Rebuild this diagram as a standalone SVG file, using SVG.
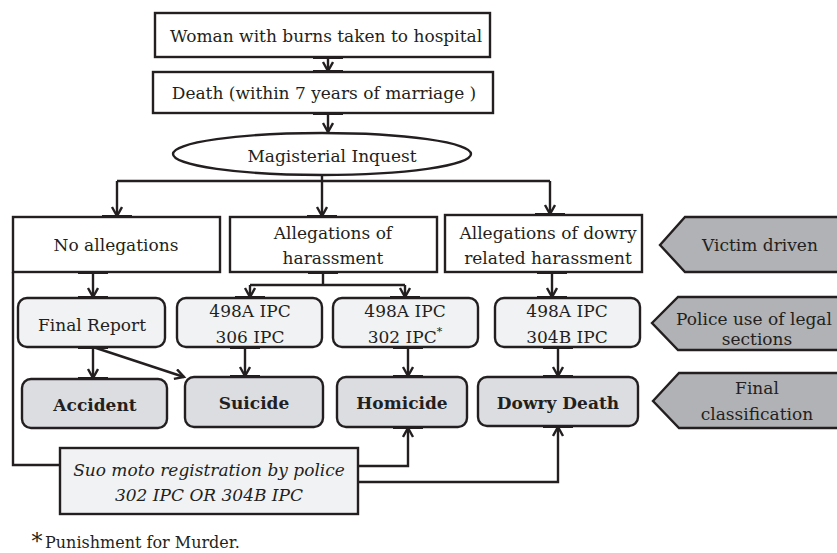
<svg xmlns="http://www.w3.org/2000/svg" width="837" height="553" viewBox="0 0 837 553">
<defs>
<marker id="arr" markerUnits="userSpaceOnUse" markerWidth="14" markerHeight="14" refX="10" refY="6" orient="auto">
<path d="M1,1 L10,6 L1,11" fill="none" stroke="#231f20" stroke-width="2.4"/>
</marker>
<style>
text{font-family:'DejaVu Serif','Liberation Serif',serif;fill:#231f20;text-anchor:middle}
.t{font-size:17px}
.b{font-size:17px;font-weight:bold}
.i{font-size:17px;font-style:italic}
.box{fill:#fff;stroke:#231f20;stroke-width:2.4}
.lt{fill:#f1f2f4;stroke:#231f20;stroke-width:2.4}
.cl{fill:#dcdde0;stroke:#231f20;stroke-width:2.4}
.gr{fill:#b1b2b5;stroke:#231f20;stroke-width:2.4}
.c{fill:none;stroke:#231f20;stroke-width:2.4}
.ca{fill:none;stroke:#231f20;stroke-width:2.4;marker-end:url(#arr)}
.s{stroke:#231f20;stroke-width:4}
</style>
</defs>
<g id="connectors">
<path class="ca" d="M328,57 V71"/>
<path class="ca" d="M328,113 V132"/>
<path class="c" d="M322,175 V181 M117,181 H550"/>
<path class="ca" d="M117,181 V216"/>
<path class="ca" d="M322,181 V216"/>
<path class="ca" d="M550,181 V214"/>
<path class="ca" d="M93,272 V297"/>
<path class="c" d="M323,272 V285 M250,285 H405"/>
<path class="ca" d="M250,285 V297"/>
<path class="ca" d="M405,285 V297"/>
<path class="ca" d="M552,272 V297"/>
<path class="ca" d="M93,347 V378"/>
<path class="ca" d="M93,347 L184,377"/>
<path class="ca" d="M245,347 V376"/>
<path class="ca" d="M408,347 V376"/>
<path class="ca" d="M558,347 V376"/>
<path class="c" d="M13,272 V465 H60"/>
<path class="ca" d="M358,466 H408 V428"/>
<path class="ca" d="M358,482 H558 V427"/>
<path class="s" d="M313,57 h30 M313,72 h30 M313,113 h30 M102,217 h30 M307,217 h30 M535,215 h30 M78,272 h30 M308,272 h30 M537,272 h30 M78,298 h30 M235,298 h30 M390,298 h30 M537,298 h30 M78,347 h30 M230,347 h30 M393,347 h30 M543,347 h30 M78,379 h30 M230,377 h30 M393,377 h30 M543,377 h30 M393,427 h30 M543,426 h30"/>
</g>
<g id="n-hospital"><rect class="box" x="155" y="13" width="335" height="44"/><text class="t" x="326" y="42">Woman with burns taken to hospital</text></g>
<g id="n-death"><rect class="box" x="153" y="72" width="340" height="41"/><text class="t" x="324" y="99">Death (within 7 years of marriage )</text></g>
<g id="n-inquest"><ellipse class="box" cx="322" cy="154" rx="149" ry="21"/><text class="t" x="332" y="162">Magisterial Inquest</text></g>
<g id="n-noalleg"><rect class="box" x="13" y="217" width="207" height="55"/><text class="t" x="116" y="251">No allegations</text></g>
<g id="n-harass"><rect class="box" x="230" y="217" width="207" height="55"/><text class="t" x="333" y="239">Allegations of</text><text class="t" x="333" y="264">harassment</text></g>
<g id="n-dowryalleg"><rect class="box" x="445" y="215" width="197" height="57"/><text class="t" x="548" y="239">Allegations of dowry</text><text class="t" x="548" y="264">related harassment</text></g>
<g id="n-victim"><polygon class="gr" points="660,245 685,217 840,217 840,272 685,272"/><text class="t" x="760" y="251">Victim driven</text></g>
<g id="n-final"><rect class="lt" x="18" y="298" width="147" height="49" rx="9"/><text class="t" x="92" y="331">Final Report</text></g>
<g id="n-306"><rect class="lt" x="177" y="298" width="145" height="49" rx="9"/><text class="t" x="250" y="317">498A IPC</text><text class="t" x="250" y="343">306 IPC</text></g>
<g id="n-302"><rect class="lt" x="333" y="298" width="145" height="49" rx="9"/><text class="t" x="405" y="317">498A IPC</text><text class="t" x="405" y="343">302 IPC<tspan font-size="11" dy="-8">*</tspan></text></g>
<g id="n-304b"><rect class="lt" x="495" y="298" width="145" height="49" rx="9"/><text class="t" x="567" y="317">498A IPC</text><text class="t" x="567" y="343">304B IPC</text></g>
<g id="n-police"><polygon class="gr" points="652,323 678,297 840,297 840,350 678,350"/><text class="t" x="754" y="325">Police use of legal</text><text class="t" x="757" y="345">sections</text></g>
<g id="n-accident"><rect class="cl" x="22" y="379" width="145" height="49" rx="9"/><text class="b" x="95" y="411">Accident</text></g>
<g id="n-suicide"><rect class="cl" x="185" y="377" width="138" height="50" rx="9"/><text class="b" x="254" y="409">Suicide</text></g>
<g id="n-homicide"><rect class="cl" x="337" y="377" width="130" height="50" rx="9"/><text class="b" x="402" y="409">Homicide</text></g>
<g id="n-dowrydeath"><rect class="cl" x="478" y="377" width="160" height="49" rx="9"/><text class="b" x="558" y="409">Dowry Death</text></g>
<g id="n-classif"><polygon class="gr" points="653,401 679,373 840,373 840,428 679,428"/><text class="t" x="757" y="394">Final</text><text class="t" x="757" y="420">classification</text></g>
<g id="n-suomoto"><rect class="lt" x="60" y="448" width="298" height="66"/><text class="i" x="209" y="476">Suo moto registration by police</text><text class="i" x="209" y="501">302 IPC OR 304B IPC</text></g>
<g id="footnote"><text x="37" y="549" font-size="22">*</text><text class="t" x="45" y="548" style="text-anchor:start;font-size:16px">Punishment for Murder.</text></g>
</svg>
